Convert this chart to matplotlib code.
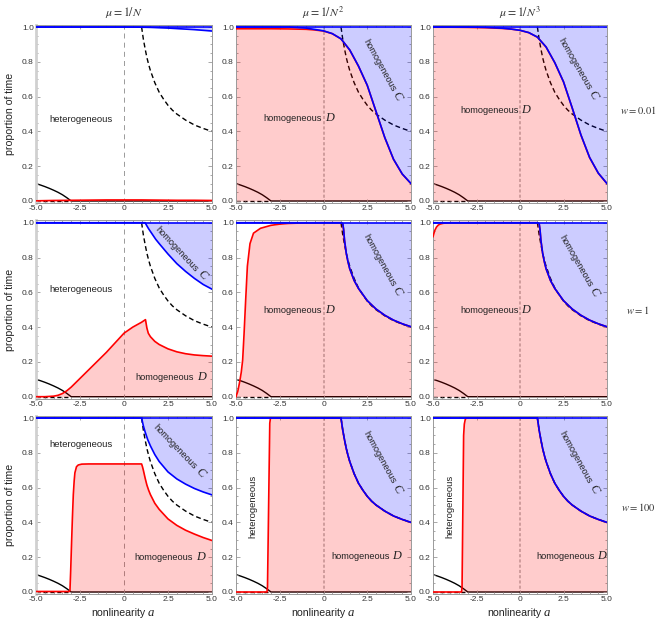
import numpy as np
import matplotlib
matplotlib.use('Agg')
import matplotlib.pyplot as plt
from matplotlib.ticker import MultipleLocator

plt.rcParams['mathtext.fontset'] = 'stix'
plt.rcParams['font.family'] = ['Liberation Sans', 'DejaVu Sans']

# ---------------- data ----------------
COL_TITLES = [r'$\mu = 1/N$', r'$\mu = 1/N^2$', r'$\mu = 1/N^3$']
ROW_LABELS = [r'$w = 0.01$', r'$w = 1$', r'$w = 100$']
X_TICKS = [-5.0, -2.5, 0.0, 2.5, 5.0]
X_TICK_LABELS = ['-5.0', '-2.5', '0', '2.5', '5.0']
Y_TICKS = [0.0, 0.2, 0.4, 0.6, 0.8, 1.0]
Y_TICK_LABELS = ['0.0', '0.2', '0.4', '0.6', '0.8', '1.0']

# black solid curve (same in all panels)
A_BLK = [-5.0, -4.75, -4.5, -4.25, -4.0, -3.75, -3.5, -3.25, -3.0, 5.0]
V_BLK = [0.100, 0.092, 0.083, 0.073, 0.062, 0.050, 0.036, 0.019, 0.0, 0.0]
# black dashed at zero
A_DZ = [-5.0, -3.0]
V_DZ = [0.0, 0.0]
# black dashed curve (upper right)
A_DSH = [1.0, 1.05, 1.1, 1.2, 1.3, 1.4, 1.5, 1.75, 2.0, 2.25, 2.5, 2.75, 3.0, 3.5, 4.0, 4.5, 5.0]
V_DSH = [1.0, 0.965, 0.93, 0.875, 0.825, 0.785, 0.75, 0.68, 0.625, 0.585, 0.55, 0.522, 0.50, 0.465, 0.437, 0.417, 0.40]

# ---- w = 0.01 ----
R_W001_N1_A = [-5.0, -4.0, -3.0, -2.0, -1.0, 0.0, 1.0, 2.0, 3.0, 4.0, 5.0]
R_W001_N1_V = [0.001, 0.003, 0.004, 0.005, 0.006, 0.006, 0.006, 0.005, 0.004, 0.004, 0.003]
B_W001_N1_A = [-5.0, 0.0, 1.0, 1.5, 2.0, 2.5, 3.0, 3.5, 4.0, 4.5, 5.0]
B_W001_N1_V = [1.0, 1.0, 0.999, 0.998, 0.996, 0.994, 0.991, 0.988, 0.985, 0.981, 0.977]

R_W001_N2_A = [-5.0, -4.0, -3.0, -2.0, -1.0, -0.5, 0.0, 0.5, 1.0, 1.5, 2.0, 2.5, 3.0, 3.5, 4.0, 4.5, 5.0]
R_W001_N2_V = [0.990, 0.990, 0.990, 0.989, 0.987, 0.983, 0.977, 0.962, 0.932, 0.868, 0.775, 0.665, 0.515, 0.365, 0.240, 0.155, 0.100]
B_W001_N2_A = [-5.0, -2.0, -1.0, -0.5, 0.0, 0.5, 1.0, 1.5, 2.0, 2.5, 3.0, 3.5, 4.0, 4.5, 5.0]
B_W001_N2_V = [1.0, 1.0, 0.994, 0.986, 0.978, 0.962, 0.932, 0.868, 0.775, 0.665, 0.515, 0.365, 0.240, 0.155, 0.100]

R_W001_N3_A = [-5.0, -4.0, -3.0, -2.0, -1.0, -0.5, 0.0, 0.5, 1.0, 1.5, 2.0, 2.5, 3.0, 3.5, 4.0, 4.5, 5.0]
R_W001_N3_V = [0.999, 0.999, 0.998, 0.996, 0.992, 0.988, 0.981, 0.968, 0.942, 0.885, 0.795, 0.685, 0.535, 0.380, 0.250, 0.160, 0.100]
B_W001_N3_A = [-5.0, -3.0, -2.0, -1.0, -0.5, 0.0, 0.5, 1.0, 1.5, 2.0, 2.5, 3.0, 3.5, 4.0, 4.5, 5.0]
B_W001_N3_V = [1.0, 1.0, 0.998, 0.993, 0.988, 0.981, 0.968, 0.942, 0.885, 0.795, 0.685, 0.535, 0.380, 0.250, 0.160, 0.100]

# ---- w = 1 ----
R_W1_N1_A = [-5.0, -4.5, -4.0, -3.75, -3.5, -3.25, -3.0, -2.5, -2.0, -1.5, -1.0, -0.5, 0.0, 0.5, 1.0,
             1.22, 1.3, 1.38, 1.5, 1.75, 2.0, 2.5, 3.0, 3.5, 4.0, 4.5, 5.0]
R_W1_N1_V = [0.0, 0.0, 0.003, 0.008, 0.018, 0.034, 0.055, 0.105, 0.155, 0.205, 0.255, 0.310, 0.365, 0.400, 0.428,
             0.443, 0.395, 0.365, 0.345, 0.318, 0.300, 0.275, 0.258, 0.247, 0.240, 0.236, 0.233]
B_W1_N1_A = [-5.0, 1.2, 1.3, 1.4, 1.6, 1.8, 2.0, 2.5, 3.0, 3.5, 4.0, 4.5, 5.0]
B_W1_N1_V = [1.0, 1.0, 0.982, 0.965, 0.935, 0.905, 0.880, 0.820, 0.765, 0.720, 0.680, 0.645, 0.618]

B_W1_A = [-5.0, 1.0, 1.1, 1.15, 1.2, 1.3, 1.4, 1.5, 1.75, 2.0, 2.5, 3.0, 3.5, 4.0, 4.5, 5.0]
B_W1_V = [1.0, 1.0, 0.995, 0.96, 0.90, 0.825, 0.775, 0.735, 0.668, 0.622, 0.552, 0.504, 0.468, 0.440, 0.419, 0.402]

R_W1_N2_LEFT_A = [-5.0, -4.9, -4.8, -4.7, -4.62, -4.54, -4.45, -4.35, -4.2, -4.0, -3.6, -3.0, -2.5, -2.0, -1.0, 0.0]
R_W1_N2_LEFT_V = [0.0, 0.03, 0.08, 0.14, 0.21, 0.36, 0.55, 0.75, 0.88, 0.94, 0.968, 0.985, 0.992, 0.996, 0.999, 1.0]
R_W1_N3_LEFT_A = [-5.0, -4.9, -4.8, -4.7, -4.6, -4.4, -4.0, 0.0]
R_W1_N3_LEFT_V = [0.92, 0.955, 0.975, 0.986, 0.992, 0.997, 1.0, 1.0]

# ---- w = 100 ----
R_W100_N1_A = [-5.0, -3.5, -3.1, -3.07, -3.03, -2.98, -2.93, -2.88, -2.83, -2.79, -2.7, -2.6, -2.4, -2.0, 1.0,
               1.05, 1.1, 1.2, 1.3, 1.4, 1.5, 1.75, 2.0, 2.5, 3.0, 3.5, 4.0, 4.5, 5.0]
R_W100_N1_V = [0.003, 0.003, 0.003, 0.01, 0.12, 0.28, 0.43, 0.56, 0.64, 0.685, 0.72, 0.73, 0.735, 0.736, 0.736,
               0.72, 0.70, 0.655, 0.615, 0.585, 0.56, 0.51, 0.475, 0.42, 0.383, 0.355, 0.333, 0.313, 0.296]
B_W100_N1_A = [-5.0, 1.0, 1.1, 1.2, 1.35, 1.5, 1.75, 2.0, 2.5, 3.0, 3.5, 4.0, 4.5, 5.0]
B_W100_N1_V = [1.0, 1.0, 0.955, 0.92, 0.875, 0.84, 0.79, 0.75, 0.69, 0.65, 0.62, 0.595, 0.575, 0.558]

B_W100_A = [-5.0, 1.0, 1.05, 1.1, 1.2, 1.3, 1.4, 1.5, 1.75, 2.0, 2.25, 2.5, 2.75, 3.0, 3.5, 4.0, 4.5, 5.0]
B_W100_V = [1.0, 1.0, 0.965, 0.93, 0.875, 0.825, 0.785, 0.75, 0.68, 0.625, 0.585, 0.55, 0.522, 0.50, 0.465, 0.437, 0.417, 0.40]

R_W100_N2_LEFT_A = [-5.0, -3.23, -3.2, -3.07, -3.03]
R_W100_N2_LEFT_V = [0.0, 0.0, 0.03, 0.97, 1.0]
R_W100_N3_LEFT_A = [-5.0, -3.36, -3.33, -3.24, -3.2, -3.15, -3.1]
R_W100_N3_LEFT_V = [0.0, 0.0, 0.03, 0.90, 0.965, 0.99, 1.0]

PANELS = [
    [(R_W001_N1_A, R_W001_N1_V, B_W001_N1_A, B_W001_N1_V),
     (R_W001_N2_A, R_W001_N2_V, B_W001_N2_A, B_W001_N2_V),
     (R_W001_N3_A, R_W001_N3_V, B_W001_N3_A, B_W001_N3_V)],
    [(R_W1_N1_A, R_W1_N1_V, B_W1_N1_A, B_W1_N1_V),
     (R_W1_N2_LEFT_A + B_W1_A[1:], R_W1_N2_LEFT_V + B_W1_V[1:], B_W1_A, B_W1_V),
     (R_W1_N3_LEFT_A + B_W1_A[1:], R_W1_N3_LEFT_V + B_W1_V[1:], B_W1_A, B_W1_V)],
    [(R_W100_N1_A, R_W100_N1_V, B_W100_N1_A, B_W100_N1_V),
     (R_W100_N2_LEFT_A + B_W100_A[1:], R_W100_N2_LEFT_V + B_W100_V[1:], B_W100_A, B_W100_V),
     (R_W100_N3_LEFT_A + B_W100_A[1:], R_W100_N3_LEFT_V + B_W100_V[1:], B_W100_A, B_W100_V)],
]

# text labels
HET_LABELS = [(0, 0, -2.43, 0.47, 0), (1, 0, -2.46, 0.617, 0), (2, 0, -2.46, 0.845, 0),
              (2, 1, -4.01, 0.495, 90), (2, 2, -4.01, 0.49, 90)]
HOMD_LABELS = [(0, 1, 0.0, 0.46), (0, 2, 0.0, 0.505), (1, 0, 4.05, 0.095), (1, 1, 0.0, 0.482),
               (1, 2, 0.0, 0.482), (2, 0, 4.0, 0.183), (2, 1, 3.87, 0.19), (2, 2, 4.38, 0.19)]
HOMC_LABELS = [(0, 1, 3.9, 0.62, -61), (0, 2, 3.9, 0.63, -60), (1, 0, 4.1, 0.71, -47),
               (1, 1, 3.9, 0.625, -61), (1, 2, 3.95, 0.62, -60), (2, 0, 4.0, 0.697, -46),
               (2, 1, 3.9, 0.61, -61), (2, 2, 3.93, 0.61, -61)]

# ---------------- layout ----------------
W, H = 664, 623
fig = plt.figure(figsize=(W / 100, H / 100), dpi=100)
col_left = [36, 236, 433]
col_w = [176, 175, 174]
row_bottom = [203.26, 398.96, 594.26]
frame_h = 178.5
YLO, YHI = -0.013, 1.013

TXT = '#222222'
FRAME = '#9a9a9a'


def two_part(ax, a, v, word, letter, rot=0.0, xycoords='data', wsize=6.7, lsize=8.8, gap=1.0, base=(0, 0)):
    th = np.deg2rad(rot)
    c, s = np.cos(th), np.sin(th)
    ax.annotate(word, (a, v), xycoords=xycoords, xytext=(base[0] - gap * c, base[1] - gap * s),
                textcoords='offset points', ha='right', va='baseline', rotation=rot,
                rotation_mode='anchor', fontsize=wsize, color=TXT, annotation_clip=False)
    ax.annotate(letter, (a, v), xycoords=xycoords, xytext=(base[0] + gap * c, base[1] + gap * s),
                textcoords='offset points', ha='left', va='baseline', rotation=rot,
                rotation_mode='anchor', fontsize=lsize, family='Liberation Serif', style='italic',
                color=TXT, annotation_clip=False)


axes = {}
for r in range(3):
    for c in range(3):
        ax = fig.add_axes([col_left[c] / W, 1 - row_bottom[r] / H, col_w[c] / W, frame_h / H])
        axes[(r, c)] = ax
        ra, rv, ba, bv = PANELS[r][c]
        if c == 0:
            ax.plot([0, 0], [YLO, YHI], color='#8a8a8a', lw=0.6, ls=(0, (6, 5)), zorder=1)
        else:
            ax.plot([0, 0], [YLO, YHI], color='#c4c4c4', lw=1.4, ls=(0, (1.6, 1.1)), zorder=1)
        ax.plot(A_BLK, V_BLK, color='black', lw=1.0, zorder=1)
        ax.plot(A_DZ, V_DZ, color='black', lw=1.0, ls=(0, (3, 2)), zorder=1)
        ax.plot(A_DSH, V_DSH, color='black', lw=1.0, ls=(0, (3.5, 2.2)), zorder=1)
        ax.fill_between(ra, 0, rv, color='red', alpha=0.2, lw=0, zorder=2)
        ax.fill_between(ba, bv, 1, color='blue', alpha=0.2, lw=0, zorder=2)
        ax.plot(ra, rv, color='red', lw=1.2, zorder=3)
        ax.plot(ba, bv, color='blue', lw=1.2, zorder=4)
        ax.plot([-5, 5], [1, 1], color='blue', lw=1.2, zorder=4)

        ax.set_xlim(-5, 5)
        ax.set_ylim(YLO, YHI)
        ax.set_xticks(X_TICKS)
        ax.set_xticklabels(X_TICK_LABELS)
        ax.set_yticks(Y_TICKS)
        ax.set_yticklabels(Y_TICK_LABELS)
        ax.xaxis.set_minor_locator(MultipleLocator(0.5))
        ax.yaxis.set_minor_locator(MultipleLocator(0.05))
        ax.tick_params(which='both', direction='in', top=True, right=True, color=FRAME, width=0.6)
        ax.tick_params(which='major', length=2.8, labelsize=6.0, labelcolor='#333333', pad=1.6)
        ax.tick_params(which='minor', length=1.4)
        for sp in ax.spines.values():
            sp.set_color(FRAME)
            sp.set_linewidth(0.7)
        if c == 0:
            ax.spines['left'].set_linewidth(2.0)
            ax.spines['left'].set_color('#d0d0d0')
            ax.set_ylabel('proportion of time', fontsize=7.6, color=TXT)
            ax.yaxis.set_label_coords(-0.117, 0.5)
        if r == 0:
            ax.text(0.5, 1.068, COL_TITLES[c], transform=ax.transAxes, ha='center', va='center',
                    fontsize=8.5, color='#333333')
        if c == 2:
            ax.text(1.178, [0.52, 0.498, 0.49][r], ROW_LABELS[r], transform=ax.transAxes,
                    ha='center', va='center', fontsize=7.6, color='#333333')
        if r == 2:
            two_part(ax, 0.5, 0.0, 'nonlinearity', 'a', xycoords='axes fraction',
                     wsize=7.6, lsize=9.2, gap=0.8, base=(16.5, -15.5))

for (r, c, a, v, rot) in HET_LABELS:
    axes[(r, c)].text(a, v, 'heterogeneous', ha='center', va='center', rotation=rot,
                      fontsize=6.8, color=TXT, zorder=6)
for (r, c, a, v) in HOMD_LABELS:
    two_part(axes[(r, c)], a, v, 'homogeneous', 'D')
for (r, c, a, v, rot) in HOMC_LABELS:
    two_part(axes[(r, c)], a, v, 'homogeneous', 'C', rot=rot)

fig.savefig('out.png', dpi=100)
